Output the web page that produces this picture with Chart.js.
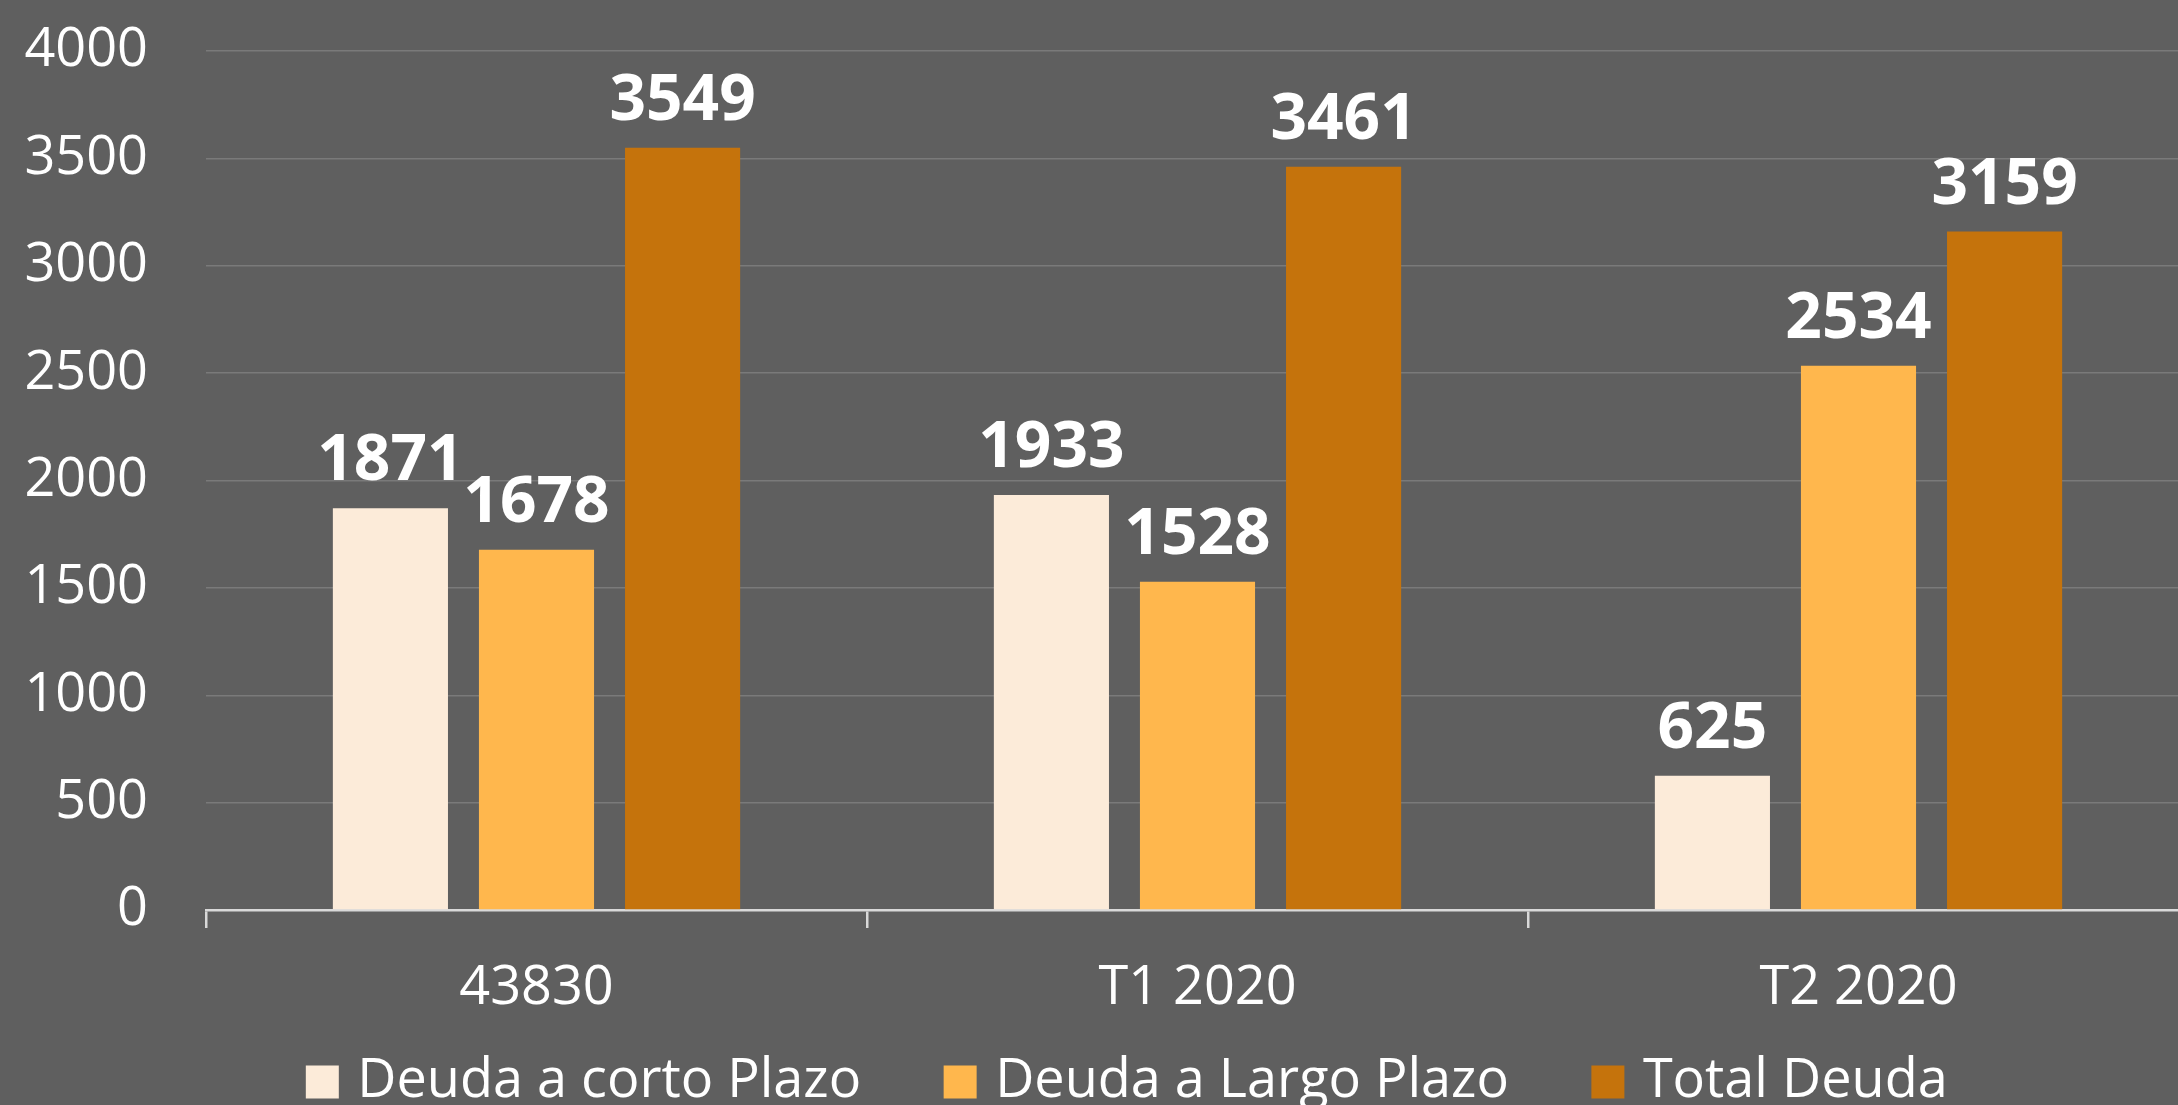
<!DOCTYPE html>
<html>
<head>
<meta charset="utf-8">
<script src="https://cdn.jsdelivr.net/npm/chart.js@4.4.1/dist/chart.umd.min.js"></script>
<style>
  html, body { margin: 0; padding: 0; background: #5f5f5f; }
  #wrap { width: 2178px; height: 1105px; position: relative; }
</style>
</head>
<body>
<div id="wrap"><canvas id="deudaChart"></canvas></div>
<script>

const categories = ["43830", "T1 2020", "T2 2020"];

const cortoPlazo = [1871, 1933, 625];
const largoPlazo = [1678, 1528, 2534];
const totalDeuda = [3549, 3461, 3159];

const yTicks = [0, 500, 1000, 1500, 2000, 2500, 3000, 3500, 4000];

// values drawn above each bar
const barValueLabels = {
    id: "barValueLabels",
    afterDatasetsDraw(chart) {
        const ctx = chart.ctx;
        ctx.save();
        ctx.font = "bold 64px 'Open Sans'";
        ctx.fillStyle = "#ffffff";
        ctx.textAlign = "center";
        ctx.textBaseline = "alphabetic";
        chart.data.datasets.forEach((ds, i) => {
            chart.getDatasetMeta(i).data.forEach((bar, j) => {
                ctx.fillText(String(ds.data[j]), bar.x, bar.y - 28);
            });
        });
        ctx.restore();
    }
};

// the original is cropped on the right and its legend sits a bit off centre
const layoutTweaks = {
    id: "layoutTweaks",
    afterLayout(chart) {
        const x = chart.scales.x;
        x.right = x.left + 1983;
        x.width = 1983;
        x.configure();

        const y = chart.scales.y;
        y.top = 51;
        y.height = y.bottom - y.top;
        y.configure();
        chart.chartArea.top = 51;
        chart.chartArea.height = chart.chartArea.bottom - 51;

        if (chart.legend) {
            chart.legend.left += 42;
            chart.legend.right += 42;
            chart.legend.top -= 56;
            chart.legend.bottom -= 56;
        }
    }
};

const ctx = document.getElementById("deudaChart");

new Chart(ctx, {

    type: "bar",

    data: {
        labels: categories,
        datasets: [
            {
                label: "Deuda a corto Plazo",
                data: cortoPlazo,
                backgroundColor: "#fcebd9"
            },
            {
                label: "Deuda a Largo Plazo",
                data: largoPlazo,
                backgroundColor: "#ffb74d"
            },
            {
                label: "Total Deuda",
                data: totalDeuda,
                backgroundColor: "#c5730c"
            }
        ]
    },

    options: {
        responsive: true,
        maintainAspectRatio: false,
        animation: false,
        barPercentage: 0.788,
        categoryPercentage: 0.663,
        layout: { padding: { top: 9, left: 0, right: 0, bottom: -70 } },
        plugins: {
            legend: {
                position: "bottom",
                labels: {
                    color: "#ffffff",
                    font: { family: "'Open Sans'", size: 54 },
                    usePointStyle: true,
                    pointStyle: "rect",
                    boxWidth: 16,
                    boxHeight: 33,
                    padding: 91
                }
            },
            tooltip: { enabled: false }
        },
        scales: {
            x: {
                afterFit(scale) { scale.height = 110; },
                grid: {
                    offset: true,
                    drawOnChartArea: false,
                    drawTicks: true,
                    tickLength: 18,
                    color: "#d9d9d9",
                    lineWidth: 2.5
                },
                border: { display: true, color: "#d9d9d9", width: 2.5 },
                ticks: {
                    color: "#ffffff",
                    font: { family: "'Open Sans'", size: 54 },
                    padding: 28,
                    maxRotation: 0
                }
            },
            y: {
                min: 0,
                max: 4000,
                afterFit(scale) { scale.width = 206; },
                afterBuildTicks(scale) { scale.ticks = yTicks.map(v => ({ value: v })); },
                grid: { color: "#7a7a7a", lineWidth: 1.5, drawTicks: false },
                border: { display: false },
                ticks: {
                    color: "#ffffff",
                    font: { family: "'Open Sans'", size: 54 },
                    padding: 58,
                    callback: v => String(v)
                }
            }
        }
    },

    plugins: [barValueLabels, layoutTweaks]

});

</script>
</body>
</html>
